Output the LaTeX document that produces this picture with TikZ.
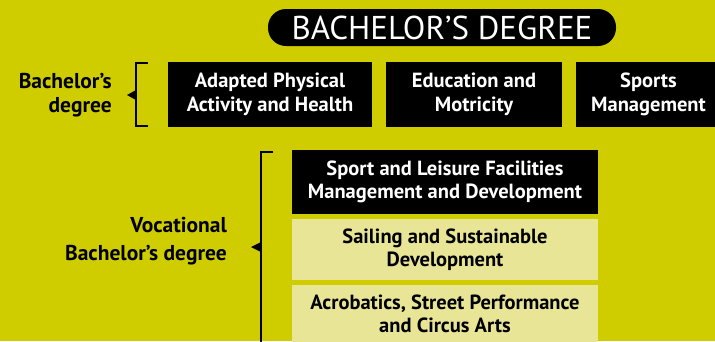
\documentclass[tikz,border=0pt]{standalone}
\usepackage{fontspec}
\setmainfont{PT Sans}
\definecolor{lime}{RGB}{207,205,0}
\definecolor{paleyellow}{RGB}{232,229,150}
\tikzset{
	darkbox/.style={fill=black, text=white, inner sep=0pt, align=center, font=\fontsize{20.5}{23.5}\selectfont\bfseries},
	lightbox/.style={fill=paleyellow, text=black, inner sep=0pt, align=center, font=\fontsize{20.5}{23.5}\selectfont\bfseries},
	sidelabel/.style={anchor=east, align=right, inner sep=0pt, font=\fontsize{21.5}{23.5}\selectfont\bfseries},
	brace/.style={line width=1.2pt}
}
\begin{document}
\begin{tikzpicture}[x=1pt, y=-1pt]
	\useasboundingbox (0,0) rectangle (715,341);
	\clip (0,0) rectangle (715,341);
	\fill [lime] (0,0) rectangle (715,341);
	% title
	\node [darkbox, rounded corners=18pt, minimum width=348pt, minimum height=37pt, font=\fontsize{33}{33}\selectfont] (title) at (442,27.5) {BACHELOR’S DEGREE};
	% bachelor row
	\node [sidelabel] (bach) at (112,95) {Bachelor’s\\degree};
	\draw [brace] (148,63) -- (136,63) -- (136,126) -- (148,126);
	\fill (127,95) -- (136,90) -- (136,100) -- cycle;
	\node [darkbox, minimum width=204pt, minimum height=65pt] (apa) at (270,94.5) {Adapted Physical\\Activity and Health};
	\node [darkbox, minimum width=176pt, minimum height=65pt] (edu) at (474,94.5) {Education and\\Motricity};
	\node [darkbox, minimum width=145pt, minimum height=65pt, text width=139pt] (sport) at (648.5,94.5) {Sports\\Management};
	% vocational
	\node [sidelabel, font=\fontsize{21.5}{28}\selectfont\bfseries] (voc) at (227,241) {Vocational\\Bachelor’s degree};
	\draw [brace] (273,152) -- (261,152) -- (261,345);
	\fill (251,247) -- (261,242) -- (261,252) -- cycle;
	\node [darkbox, minimum width=306pt, minimum height=64pt] (slf) at (445,182) {Sport and Leisure Facilities\\Management and Development};
	\node [lightbox, minimum width=306pt, minimum height=61pt] (sail) at (445,249.5) {Sailing and Sustainable\\Development};
	\node [lightbox, minimum width=306pt, minimum height=58pt] (acro) at (445,314) {Acrobatics, Street Performance\\and Circus Arts};
\end{tikzpicture}
\end{document}
